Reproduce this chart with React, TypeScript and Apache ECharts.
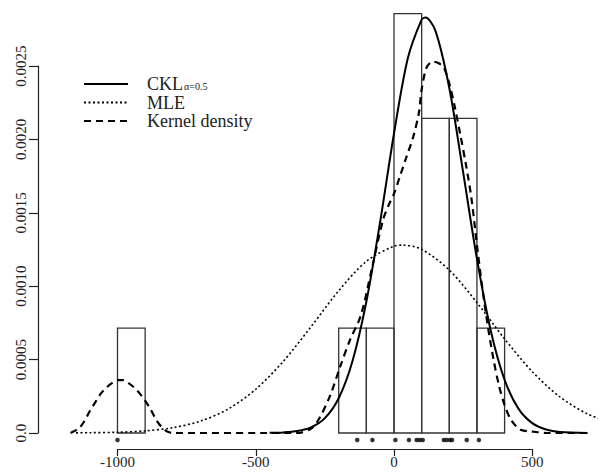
import React, { useEffect, useRef } from "react";
import * as echarts from "echarts";

// Histogram (density scale), bins of width 100
const binStarts = [-1000, -200, -100, 0, 100, 200, 300];
const binWidth = 100;
const binDensity = [0.000714, 0.000714, 0.000714, 0.002857, 0.002143, 0.002143, 0.000714];

// Rug of observations
const rugValues = [-1000, -133, -78, 5, 54, 82, 93, 104, 180, 190, 202, 210, 263, 307];
const rugLevel = -0.000048;

// CKL curve
const cklX = [-450, -400, -350, -300, -250, -200, -150, -100, -50, 0, 50, 100, 114, 150, 200, 250, 300, 350, 400, 450, 500, 550, 600, 700];
const cklY = [0.000001, 0.000004, 0.000013, 0.000038, 0.000101, 0.000237, 0.000491, 0.000894, 0.001439, 0.00204, 0.002553, 0.002816, 0.00283, 0.002739, 0.00235, 0.001777, 0.001186, 0.000697, 0.000362, 0.000166, 0.000067, 0.000024, 0.000007, 0.0];

// MLE curve
const mleX = [-1150, -1100, -1000, -900, -800, -700, -600, -500, -400, -300, -200, -100, 0, 33, 100, 200, 300, 400, 500, 600, 700, 800];
const mleY = [0.000001, 0.000002, 0.000005, 0.0000146, 0.000036, 0.000081, 0.000163, 0.000298, 0.000489, 0.000724, 0.000969, 0.001169, 0.001273, 0.00128, 0.001251, 0.00111, 0.000888, 0.000641, 0.000418, 0.000246, 0.00013, 0.000062];

// Kernel density curve
const kdeX = [-1170, -1160, -1140, -1120, -1100, -1080, -1060, -1040, -1020, -1000, -980, -960, -940, -920, -900, -880, -860, -840, -820, -800, -350, -300, -270, -230, -195, -160, -120, -80, -40, -20, 0, 20, 45, 70, 90, 100, 118, 140, 160, 180, 200, 220, 240, 260, 280, 300, 320, 340, 360, 380, 400, 420, 440, 460, 500, 550, 700];
const kdeY = [0.0, 0.00001, 0.00003, 0.00008, 0.00015, 0.00021, 0.00027, 0.00031, 0.00034, 0.00036, 0.00036, 0.00034, 0.00031, 0.00027, 0.00022, 0.00016, 0.00009, 0.00004, 0.00001, 0.0, 0.0, 0.00003, 0.0001, 0.00026, 0.00045, 0.00063, 0.0008, 0.00112, 0.00145, 0.00155, 0.00163, 0.00174, 0.00188, 0.00202, 0.00218, 0.00234, 0.00249, 0.00253, 0.00252, 0.00249, 0.00238, 0.00222, 0.00203, 0.00183, 0.0016, 0.00128, 0.00098, 0.00072, 0.0005, 0.00032, 0.00019, 0.0001, 0.00005, 0.00002, 0.00001, 0.0, 0.0];

const xTickLabels: Record<string, string> = { "-1000": "-1000", "-500": "-500", "0": "0", "500": "500" };
const yTickLabels = ["0.0", "0.0005", "0.0010", "0.0015", "0.0020", "0.0025"];
const legendNames = ["CKL", "MLE", "Kernel density"];

const zip = (xs: number[], ys: number[]) => xs.map((x, i) => [x, ys[i]]);

export default function App() {
  const ref = useRef<HTMLDivElement>(null);
  useEffect(() => {
    if (!ref.current) return;
    const chart = echarts.init(ref.current, undefined, { renderer: "svg" });
    const serif = "'Liberation Serif', 'DejaVu Serif', serif";
    const pxPerUnit = 0.2765;
    const zeroX = 394;
    const pxPerDensity = 146800;
    const zeroY = 433;
    const dataMinX = -1200;
    const dataLeft = zeroX + dataMinX * pxPerUnit;
    const dataWidth = 597.5 - dataLeft;
    const dataMaxX = dataMinX + dataWidth / pxPerUnit;
    const dataMaxY = zeroY / pxPerDensity;
    chart.setOption({
      animation: false,
      backgroundColor: "#ffffff",
      grid: [
        { left: dataLeft, width: dataWidth, top: 0, height: zeroY, containLabel: false },
        {
          left: zeroX - 1000 * pxPerUnit,
          width: 1500 * pxPerUnit,
          top: zeroY - 0.0025 * pxPerDensity,
          height: 0.0025 * pxPerDensity,
          containLabel: false,
        },
      ],
      legend: {
        orient: "vertical",
        left: 78,
        top: 70,
        itemWidth: 44,
        itemHeight: 14,
        itemGap: 0.5,
        itemStyle: { opacity: 0 },
        textStyle: {
          fontFamily: serif,
          fontSize: 18,
          lineHeight: 14,
          color: "#222",
          rich: {
            m: { fontFamily: serif, fontSize: 18, lineHeight: 14, color: "#222", padding: [0, 0, 0, 14] },
            s: { fontFamily: serif, fontSize: 10, lineHeight: 6, verticalAlign: "bottom", color: "#222", padding: [0, 0, 0, 1] },
          },
        },
        formatter: (name: string) => (name === "CKL" ? "{m|CKL}{s|α=0.5}" : `{m|${name}}`),
        data: legendNames,
      },
      xAxis: [
        { type: "value", gridIndex: 0, min: dataMinX, max: dataMaxX, show: false },
        {
          type: "value",
          gridIndex: 1,
          min: -1000,
          max: 500,
          interval: 500,
          offset: 16,
          splitLine: { show: false },
          axisLine: { show: true, onZero: false, lineStyle: { color: "#222", width: 1.2 } },
          axisTick: { show: true, inside: false, length: 7, lineStyle: { color: "#222", width: 1.2 } },
          axisLabel: {
            margin: 5,
            fontFamily: serif,
            fontSize: 15,
            color: "#222",
            formatter: (v: number) => xTickLabels[String(v)] ?? "",
          },
        },
      ],
      yAxis: [
        { type: "value", gridIndex: 0, min: 0, max: dataMaxY, show: false },
        {
          type: "value",
          gridIndex: 1,
          min: 0,
          max: 0.0025,
          interval: 0.0005,
          offset: 79.5,
          splitLine: { show: false },
          axisLine: { show: true, onZero: false, lineStyle: { color: "#222", width: 1.2 } },
          axisTick: { show: true, inside: false, length: 9, lineStyle: { color: "#222", width: 1.2 } },
          axisLabel: {
            rotate: 90,
            margin: 10,
            fontFamily: serif,
            fontSize: 15,
            color: "#222",
            formatter: (v: number) => yTickLabels[Math.round(v / 0.0005)] ?? "",
          },
        },
      ],
      series: [
        {
          type: "custom",
          name: "hist",
          xAxisIndex: 0,
          yAxisIndex: 0,
          clip: false,
          silent: true,
          encode: { x: [0, 1], y: 2 },
          data: binStarts.map((b, i) => [b, b + binWidth, binDensity[i]]),
          renderItem: (params: any, api: any) => {
            const p0 = api.coord([api.value(0), 0]);
            const p1 = api.coord([api.value(1), api.value(2)]);
            return {
              type: "rect",
              shape: { x: p0[0], y: p1[1], width: p1[0] - p0[0], height: p0[1] - p1[1] },
              style: { fill: "none", stroke: "#333", lineWidth: 1.3 },
            };
          },
        },
        {
          type: "line",
          name: "CKL",
          xAxisIndex: 0,
          yAxisIndex: 0,
          clip: false,
          symbol: "none",
          smooth: 0.3,
          data: zip(cklX, cklY),
          lineStyle: { color: "#000", width: 2, type: "solid" },
          itemStyle: { color: "#000" },
        },
        {
          type: "line",
          name: "MLE",
          xAxisIndex: 0,
          yAxisIndex: 0,
          clip: false,
          symbol: "none",
          smooth: 0.3,
          data: zip(mleX, mleY),
          lineStyle: { color: "#000", width: 1.6, type: [2, 2.5] },
          itemStyle: { color: "#000" },
        },
        {
          type: "line",
          name: "Kernel density",
          xAxisIndex: 0,
          yAxisIndex: 0,
          clip: false,
          symbol: "none",
          smooth: 0.3,
          data: zip(kdeX, kdeY),
          lineStyle: { color: "#000", width: 2.2, type: [7, 5] },
          itemStyle: { color: "#000" },
        },
        {
          type: "scatter",
          name: "rug",
          xAxisIndex: 0,
          yAxisIndex: 0,
          clip: false,
          silent: true,
          symbol: "circle",
          symbolSize: 4.5,
          data: rugValues.map((v) => [v, rugLevel]),
          itemStyle: { color: "#000" },
        },
      ],
    });
    return () => chart.dispose();
  }, []);
  return (
    <div
      ref={ref}
      style={{ position: "fixed", left: 0, top: 0, width: 598, height: 474, background: "#fff" }}
    />
  );
}
